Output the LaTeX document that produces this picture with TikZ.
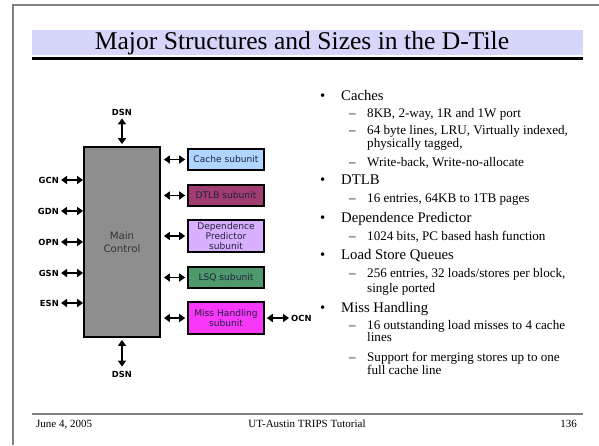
\documentclass[tikz,border=0pt]{standalone}
\usepackage{fontspec}
\setmainfont{Liberation Serif}
\newfontfamily\dv{DejaVu Sans}
\usetikzlibrary{arrows.meta}
\definecolor{bandcol}{HTML}{D6D6FA}
\definecolor{framecol}{HTML}{808080}
\definecolor{maingray}{HTML}{8E8E8E}
\definecolor{cachecol}{HTML}{B0D6FF}
\definecolor{dtlbcol}{HTML}{A03C70}
\definecolor{depcol}{HTML}{D8B0FF}
\definecolor{lsqcol}{HTML}{4E9A6C}
\definecolor{misscol}{HTML}{F838F8}
\definecolor{subtext}{HTML}{202040}
\tikzset{
  dar/.style={{Triangle[length=6pt,width=8pt]}-{Triangle[length=6pt,width=8pt]}, line width=1.8pt},
  netlbl/.style={inner sep=0, font=\dv\bfseries\fontsize{8.4}{9}\selectfont},
  subbox/.style={draw, line width=1.6pt, minimum width=76pt, inner sep=0, align=center, text=subtext, font=\dv\fontsize{9.1}{9.8}\selectfont},
  lone/.style={anchor=base west, inner sep=0, font=\fontsize{14.7}{17}\selectfont},
  ltwo/.style={anchor=base west, inner sep=0, font=\fontsize{13.1}{15}\selectfont},
  foot/.style={anchor=base, inner sep=0, font=\fontsize{11}{13}\selectfont}
}
\begin{document}
\begin{tikzpicture}[x=1pt,y=-1pt]
\useasboundingbox (0,0) rectangle (599,445);
\fill[white] (0,0) rectangle (599,445);
% frame
\draw[framecol, line width=2pt] (13,445) -- (13,5) -- (599,5);
% title
\fill[bandcol] (32,30) rectangle (583,55);
\node[inner sep=0, font=\fontsize{25.6}{28}\selectfont] (title) at (302,43) {Major Structures and Sizes in the D-Tile};
\draw[line width=2.7pt] (32,58.5) -- (583,58.5);
% footer
\draw[framecol, line width=2pt] (32,414) -- (583,414);
\node[foot, anchor=base west] (date) at (36,427) {June 4, 2005};
\node[foot] (tut) at (307,427) {UT-Austin TRIPS Tutorial};
\node[foot, anchor=base east] (page) at (577,427) {136};
% main control
\node[draw, line width=1.8pt, fill=maingray, minimum width=76pt, minimum height=190pt, inner sep=0] (main) at (122,242) {};
\node[align=center, inner sep=0, text=black!80, font=\dv\fontsize{10.2}{12.5}\selectfont] (mainlbl) at (main.center) {Main\\Control};
% subunits
\node[subbox, fill=cachecol, minimum height=21pt] (cache) at (226,159.5) {Cache subunit};
\node[subbox, fill=dtlbcol, minimum height=21pt] (dtlb) at (226,195.5) {DTLB subunit};
\node[subbox, fill=depcol, minimum height=32pt] (dep) at (226,236) {Dependence\\Predictor\\subunit};
\node[subbox, fill=lsqcol, minimum height=21pt] (lsq) at (226,277.5) {LSQ subunit};
\node[subbox, fill=misscol, minimum height=32pt] (miss) at (226,318) {Miss Handling\\subunit};
\foreach \s in {cache,dtlb,dep,lsq,miss}{
  \draw[dar] ([xshift=3pt]main.east |- \s.west) -- ([xshift=-2pt]\s.west);
}
% network labels
\node[netlbl] (dsnt) at (122,112) {DSN};
\node[netlbl] (dsnb) at (122,374) {DSN};
\draw[dar] ([yshift=-3pt]dsnt.south) -- ([yshift=2pt]main.north);
\draw[dar] ([yshift=-2pt]main.south) -- ([yshift=4pt]dsnb.north);
\node[netlbl, anchor=east] (gcn) at (59,180) {GCN};
\node[netlbl, anchor=east] (gdn) at (59,211) {GDN};
\node[netlbl, anchor=east] (opn) at (59,242) {OPN};
\node[netlbl, anchor=east] (gsn) at (59,273) {GSN};
\node[netlbl, anchor=east] (esn) at (59,303) {ESN};
\foreach \s in {gcn,gdn,opn,gsn,esn}{
  \draw[dar] ([xshift=2pt]\s.east) -- (main.west |- \s.east);
}
\node[netlbl, anchor=west] (ocn) at (291,318) {OCN};
\draw[dar] ([xshift=2pt]miss.east) -- ([xshift=-2pt]ocn.west);
% bullet text
\node[lone] (b1) at (320,100) {•};
\node[lone] (t1) at (341,100) {Caches};
\node[ltwo] (d11) at (349,117) {–};
\node[ltwo] (t11) at (367,117) {8KB, 2-way, 1R and 1W port};
\node[ltwo] (d12) at (349,134) {–};
\node[ltwo] (t12) at (367,134) {64 byte lines, LRU, Virtually indexed,};
\node[ltwo] (t12b) at (367,147) {physically tagged,};
\node[ltwo] (d13) at (349,166) {–};
\node[ltwo] (t13) at (367,166) {Write-back, Write-no-allocate};
\node[lone] (b2) at (320,184) {•};
\node[lone] (t2) at (341,184) {DTLB};
\node[ltwo] (d21) at (349,202) {–};
\node[ltwo] (t21) at (367,202) {16 entries, 64KB to 1TB pages};
\node[lone] (b3) at (320,222) {•};
\node[lone] (t3) at (341,222) {Dependence Predictor};
\node[ltwo] (d31) at (349,240) {–};
\node[ltwo] (t31) at (367,240) {1024 bits, PC based hash function};
\node[lone] (b4) at (320,259) {•};
\node[lone] (t4) at (341,259) {Load Store Queues};
\node[ltwo] (d41) at (349,277) {–};
\node[ltwo] (t41) at (367,277) {256 entries, 32 loads/stores per block,};
\node[ltwo] (t41b) at (367,292) {single ported};
\node[lone] (b5) at (320,312) {•};
\node[lone] (t5) at (341,312) {Miss Handling};
\node[ltwo] (d51) at (349,329) {–};
\node[ltwo] (t51) at (367,329) {16 outstanding load misses to 4 cache};
\node[ltwo] (t51b) at (367,341) {lines};
\node[ltwo] (d52) at (349,361) {–};
\node[ltwo] (t52) at (367,361) {Support for merging stores up to one};
\node[ltwo] (t52b) at (367,374) {full cache line};
\end{tikzpicture}
\end{document}
